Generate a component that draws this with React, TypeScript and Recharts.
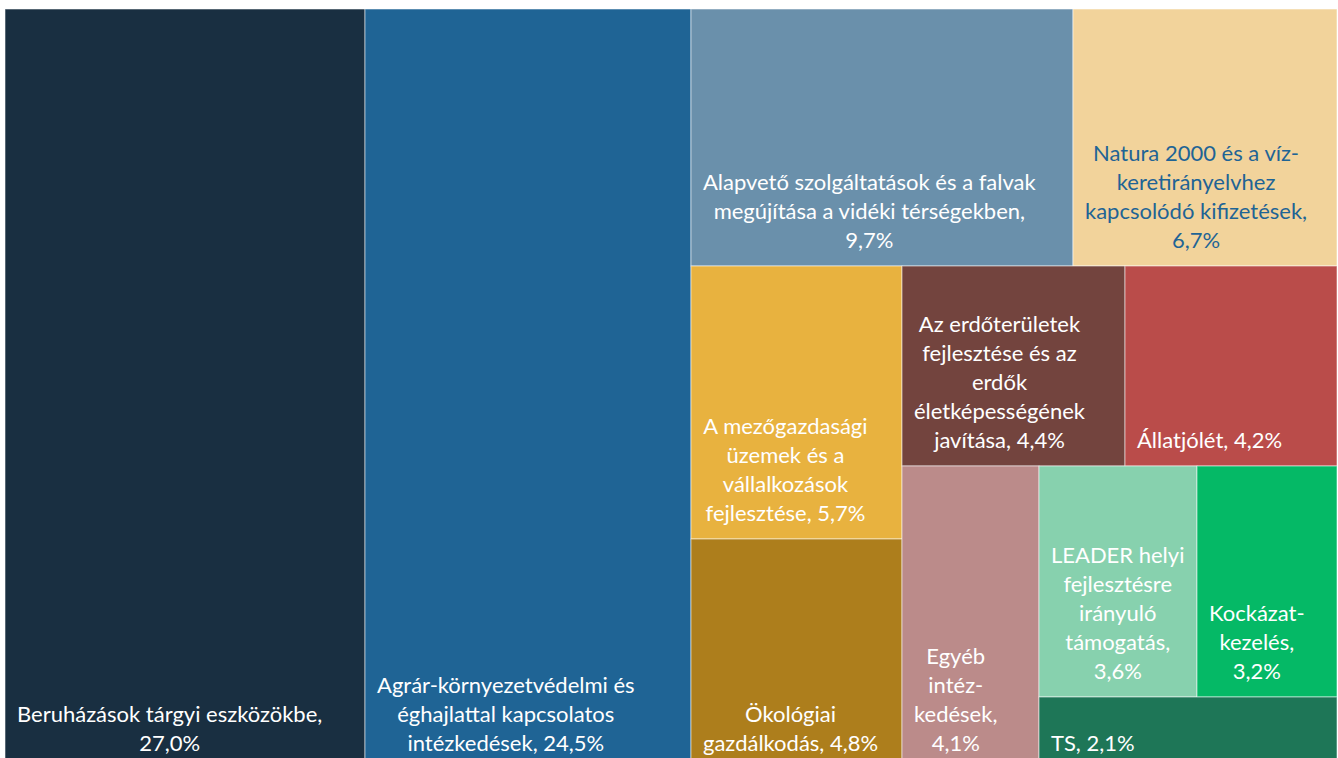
import React from "react";
import { Treemap } from "recharts";

// Támogatások megoszlása intézkedésenként (%)
const categories = [
  "Beruházások tárgyi eszközökbe",
  "Agrár-környezetvédelmi és éghajlattal kapcsolatos intézkedések",
  "Alapvető szolgáltatások és a falvak megújítása a vidéki térségekben",
  "Natura 2000 és a víz-keretirányelvhez kapcsolódó kifizetések",
  "A mezőgazdasági üzemek és a vállalkozások fejlesztése",
  "Ökológiai gazdálkodás",
  "Az erdőterületek fejlesztése és az erdők életképességének javítása",
  "Állatjólét",
  "Egyéb intézkedések",
  "LEADER helyi fejlesztésre irányuló támogatás",
  "Kockázatkezelés",
  "TS",
];

const values = [27.0, 24.5, 9.7, 6.7, 5.7, 4.8, 4.4, 4.2, 4.1, 3.6, 3.2, 2.1];

// label lines as wrapped in the original; the value is appended to the last line
const labelLines = [
  ["Beruházások tárgyi eszközökbe,", ""],
  ["Agrár-környezetvédelmi és", "éghajlattal kapcsolatos", "intézkedések, "],
  ["Alapvető szolgáltatások és a falvak", "megújítása a vidéki térségekben,", ""],
  ["Natura 2000 és a víz-", "keretirányelvhez", "kapcsolódó kifizetések,", ""],
  ["A mezőgazdasági", "üzemek és a", "vállalkozások", "fejlesztése, "],
  ["Ökológiai", "gazdálkodás, "],
  ["Az erdőterületek", "fejlesztése és az", "erdők", "életképességének", "javítása, "],
  ["Állatjólét, "],
  ["Egyéb", "intéz-", "kedések,", ""],
  ["LEADER helyi", "fejlesztésre", "irányuló", "támogatás,", ""],
  ["Kockázat-", "kezelés,", ""],
  ["TS, "],
];

const colors = [
  "#192f41", "#1f6495", "#6a90ab", "#f2d39b", "#e8b23f", "#ad7e1c",
  "#73443e", "#ba4c4a", "#bb8b8a", "#87d1ae", "#05b966", "#1e7657",
];

const textColors = [
  "#ffffff", "#ffffff", "#ffffff", "#1f6495", "#ffffff", "#ffffff",
  "#ffffff", "#ffffff", "#ffffff", "#ffffff", "#ffffff", "#ffffff",
];

const data = categories.map((name, i) => ({
  name,
  size: values[i],
  cellColor: colors[i],
  labelColor: textColors[i],
  labelLines: labelLines[i],
}));

const FONT_FAMILY = "Lato, 'Open Sans', sans-serif";
const FONT_SIZE = 22;
const LINE_H = 29;

let measureCtx: CanvasRenderingContext2D | null = null;
const textWidth = (s: string) => {
  if (!measureCtx) measureCtx = document.createElement("canvas").getContext("2d");
  if (!measureCtx) return s.length * FONT_SIZE * 0.5;
  measureCtx.font = `${FONT_SIZE}px Lato`;
  return measureCtx.measureText(s).width;
};

const fmt = (v: number) => `${v.toFixed(1).replace(".", ",")}%`;

function renderCell(props: any) {
  const { x, y, width, height, depth, size, cellColor, labelColor, labelLines } = props;
  if (depth !== 1) return <g />;

  const lines: string[] = labelLines.slice();
  lines[lines.length - 1] = lines[lines.length - 1] + fmt(size);
  const blockW = Math.max(...lines.map(textWidth));
  const cx = x + 12 + blockW / 2;
  const lastBaseline = y + height - 18;

  return (
    <g>
      <rect
        x={x}
        y={y}
        width={width}
        height={height}
        fill={cellColor}
        stroke="#ffffff"
        strokeOpacity={0.55}
        strokeWidth={1}
      />
      <text
        textAnchor="middle"
        fill={labelColor}
        fontFamily={FONT_FAMILY}
        fontSize={FONT_SIZE}
      >
        {lines.map((l, i) => (
          <tspan key={i} x={cx} y={lastBaseline - (lines.length - 1 - i) * LINE_H}>
            {l}
          </tspan>
        ))}
      </text>
    </g>
  );
}

export default function App() {
  return (
    <div
      style={{
        position: "fixed",
        left: 5,
        top: 9,
        width: 1332,
        height: 749,
        overflow: "hidden",
        background: "#ffffff",
      }}
    >
      <Treemap
        width={1332}
        height={760}
        data={data}
        dataKey="size"
        nameKey="name"
        aspectRatio={0.86}
        isAnimationActive={false}
        content={renderCell}
      />
    </div>
  );
}
